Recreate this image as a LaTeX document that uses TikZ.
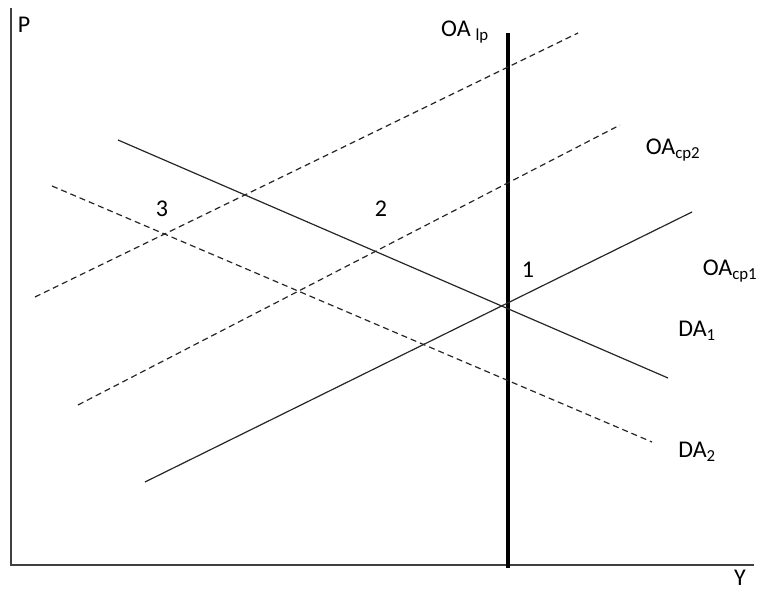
\documentclass[tikz,border=0pt]{standalone}
\usepackage{fontspec}
\setmainfont{Carlito}
\usetikzlibrary{positioning}

\begin{document}
\begin{tikzpicture}[
    x=1pt, y=-1pt,
    axis/.style={line width=1.6pt, draw=black!75},
    curve/.style={line width=1.2pt, draw=black!85},
    shifted/.style={curve, dashed, dash pattern=on 6pt off 4pt},
    longrun/.style={line width=4.5pt},
    lbl/.style={font=\fontsize{24}{28}\selectfont, inner sep=0pt}
]
\useasboundingbox (0,0) rectangle (761,593);

% axes
\coordinate (origin) at (11,565);
\coordinate (ptop) at (11,8);
\coordinate (yend) at (754,565);
\draw[axis] (ptop) -- (origin) -- (yend);
\node[lbl] (plabel) at (24,25) {P};
\node[lbl, anchor=base] (ylabel) at (740,586) {Y};

% long run supply
\coordinate (lptop) at (508,33);
\coordinate (lpbot) at (508,568);
\draw[longrun] (lptop) -- (lpbot);
\node[lbl, anchor=base west] (lplabel) at (441,37) {OA\hspace{0.2em}\textsubscript{lp}};

% short run supply curves
\coordinate (cp1a) at (145,482);
\coordinate (cp1b) at (692,212);
\coordinate (cp2a) at (78,405);
\coordinate (cp2b) at (620,125);
\coordinate (cp3a) at (35,297);
\coordinate (cp3b) at (578,33);
\draw[curve] (cp1a) -- (cp1b);
\draw[shifted] (cp2a) -- (cp2b);
\draw[shifted] (cp3a) -- (cp3b);
\node[lbl] (cp1label) at (730,271) {OA\textsubscript{cp1}};
\node[lbl] (cp2label) at (673,150) {OA\textsubscript{cp2}};

% demand curves
\coordinate (da1a) at (118,140);
\coordinate (da1b) at (668,378);
\coordinate (da2a) at (52,186);
\coordinate (da2b) at (652,442);
\draw[curve] (da1a) -- (da1b);
\draw[shifted] (da2a) -- (da2b);
\node[lbl] (da1label) at (697,331) {DA\textsubscript{1}};
\node[lbl] (da2label) at (697,452) {DA\textsubscript{2}};

% equilibria
\node[lbl] (eq1) at (528,270) {1};
\node[lbl] (eq2) at (381,209) {2};
\node[lbl] (eq3) at (162,209) {3};

\end{tikzpicture}
\end{document}
